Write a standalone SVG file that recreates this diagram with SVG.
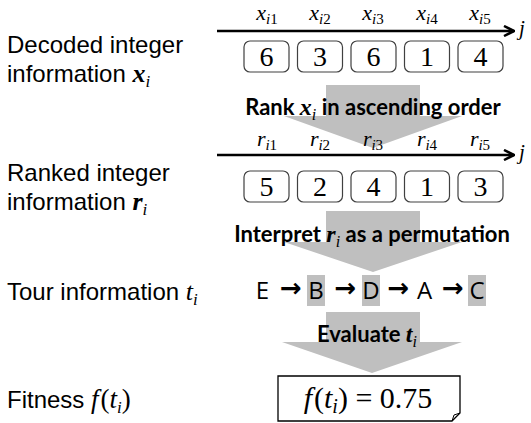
<svg xmlns="http://www.w3.org/2000/svg" width="531" height="423" viewBox="0 0 531 423">
<defs>
<style>
.lbl{font-family:"Liberation Sans",Arial,sans-serif;font-size:24px;fill:#000}
.m{font-family:"Liberation Serif","DejaVu Serif",serif;font-style:italic}
.up{font-family:"Liberation Serif","DejaVu Serif",serif;font-style:normal}
.col{font-family:"Liberation Serif","DejaVu Serif",serif;font-style:italic;font-size:22px;text-anchor:middle;fill:#000}
.box{fill:#fff;stroke:#404040;stroke-width:1.2}
.num{font-family:"Liberation Serif","DejaVu Serif",serif;font-size:28px;text-anchor:middle;fill:#000}
.big{fill:#bfbfbf}
.head{font-family:Lato,"Open Sans",sans-serif;font-weight:bold;font-size:22px;text-anchor:middle;fill:#000}
.axis{stroke:#000;stroke-width:2.5;fill:none}
.tour{font-family:"Open Sans","Liberation Sans",sans-serif;font-size:24px;text-anchor:middle;fill:#000}
.arr{font-family:"DejaVu Sans",sans-serif;font-size:26px;font-weight:bold;text-anchor:middle;fill:#000}
</style>
<marker id="head" viewBox="0 0 10 10" refX="9" refY="5" markerWidth="5" markerHeight="5" orient="auto" markerUnits="strokeWidth">
<path d="M1,1 L9,5 L1,9" fill="none" stroke="#000" stroke-width="2"/>
</marker>
</defs>
<rect width="531" height="423" fill="#fff"/>

<g id="labels">
<text class="lbl" x="7" y="53">Decoded integer</text>
<text class="lbl" x="7" y="82">information <tspan class="m" font-weight="bold" font-size="26">x</tspan><tspan class="m" font-size="17" dy="5">i</tspan></text>
<text class="lbl" x="7" y="181">Ranked integer</text>
<text class="lbl" x="7" y="210">information <tspan class="m" font-weight="bold" font-size="26">r</tspan><tspan class="m" font-size="17" dy="5">i</tspan></text>
<text class="lbl" x="7" y="300">Tour information <tspan class="m" font-size="26">t</tspan><tspan class="m" font-size="17" dy="5">i</tspan></text>
<text class="lbl" x="7" y="408">Fitness <tspan class="m" font-size="27">f</tspan><tspan class="up" font-size="27" dx="2">(</tspan><tspan class="m" font-size="27">t</tspan><tspan class="m" font-size="17" dy="5">i</tspan><tspan class="up" font-size="27" dy="-5">)</tspan></text>
</g>

<g id="connectors">
<polygon class="big" points="326,85 420,85 420,116 462,116 373,148 284,116 326,116"/>
<polygon class="big" points="326,211 420,211 420,242 462,242 373,272 284,242 326,242"/>
<polygon class="big" points="326,312 420,312 420,342 462,342 372,373 282,342 326,342"/>
<line class="axis" x1="217" y1="31" x2="514" y2="31" marker-end="url(#head)"/>
<line class="axis" x1="217" y1="155" x2="514" y2="155" marker-end="url(#head)"/>
</g>

<g id="row-x">
<text class="col" x="267" y="20">x<tspan font-size="15" dy="4">i</tspan><tspan class="up" font-size="15">1</tspan></text>
<text class="col" x="320" y="20">x<tspan font-size="15" dy="4">i</tspan><tspan class="up" font-size="15">2</tspan></text>
<text class="col" x="373" y="20">x<tspan font-size="15" dy="4">i</tspan><tspan class="up" font-size="15">3</tspan></text>
<text class="col" x="427" y="20">x<tspan font-size="15" dy="4">i</tspan><tspan class="up" font-size="15">4</tspan></text>
<text class="col" x="480" y="20">x<tspan font-size="15" dy="4">i</tspan><tspan class="up" font-size="15">5</tspan></text>
<text class="m" x="519" y="35" font-size="21">j</text>
<rect class="box" x="244" y="41" width="45" height="31" rx="6"/>
<rect class="box" x="297.5" y="41" width="45" height="31" rx="6"/>
<rect class="box" x="351" y="41" width="45" height="31" rx="6"/>
<rect class="box" x="404.5" y="41" width="45" height="31" rx="6"/>
<rect class="box" x="458" y="41" width="45" height="31" rx="6"/>
<text class="num" x="266.5" y="66">6</text>
<text class="num" x="320" y="66">3</text>
<text class="num" x="373.5" y="66">6</text>
<text class="num" x="427" y="66">1</text>
<text class="num" x="480.5" y="66">4</text>
</g>

<g id="step-rank">
<text class="head" x="373" y="115">Rank <tspan class="m" font-weight="bold" font-size="24">x</tspan><tspan class="m" font-weight="normal" font-size="16" dy="5">i</tspan><tspan dy="-5"> in ascending order</tspan></text>
</g>

<g id="row-r">
<text class="col" x="267" y="146">r<tspan font-size="15" dy="4">i</tspan><tspan class="up" font-size="15">1</tspan></text>
<text class="col" x="320" y="146">r<tspan font-size="15" dy="4">i</tspan><tspan class="up" font-size="15">2</tspan></text>
<text class="col" x="373" y="146">r<tspan font-size="15" dy="4">i</tspan><tspan class="up" font-size="15">3</tspan></text>
<text class="col" x="427" y="146">r<tspan font-size="15" dy="4">i</tspan><tspan class="up" font-size="15">4</tspan></text>
<text class="col" x="480" y="146">r<tspan font-size="15" dy="4">i</tspan><tspan class="up" font-size="15">5</tspan></text>
<text class="m" x="519" y="159" font-size="21">j</text>
<rect class="box" x="244" y="171" width="45" height="31" rx="6"/>
<rect class="box" x="297.5" y="171" width="45" height="31" rx="6"/>
<rect class="box" x="351" y="171" width="45" height="31" rx="6"/>
<rect class="box" x="404.5" y="171" width="45" height="31" rx="6"/>
<rect class="box" x="458" y="171" width="45" height="31" rx="6"/>
<text class="num" x="266.5" y="196">5</text>
<text class="num" x="320" y="196">2</text>
<text class="num" x="373.5" y="196">4</text>
<text class="num" x="427" y="196">1</text>
<text class="num" x="480.5" y="196">3</text>
</g>

<g id="step-permutation">
<text class="head" x="372" y="242">Interpret <tspan class="m" font-weight="bold" font-size="24">r</tspan><tspan class="m" font-weight="normal" font-size="16" dy="5">i</tspan><tspan dy="-5"> as a permutation</tspan></text>
</g>

<g id="tour">
<rect class="big" x="307" y="275" width="18" height="31"/>
<rect class="big" x="362" y="275" width="18" height="31"/>
<rect class="big" x="468" y="275" width="18" height="31"/>
<text class="tour" x="262.5" y="299">E</text>
<text class="arr" x="291" y="297">→</text>
<text class="tour" x="316" y="299">B</text>
<text class="arr" x="345.5" y="297">→</text>
<text class="tour" x="371" y="299">D</text>
<text class="arr" x="398.5" y="297">→</text>
<text class="tour" x="424.5" y="299">A</text>
<text class="arr" x="453" y="297">→</text>
<text class="tour" x="477" y="299">C</text>
</g>

<g id="step-evaluate">
<text class="head" x="367" y="342">Evaluate <tspan class="m" font-weight="bold" font-size="24">t</tspan><tspan class="m" font-weight="normal" font-size="16" dy="5">i</tspan></text>
</g>

<g id="fitness">
<path d="M278,376 H460 V413 L452,421 H278 Z" fill="#fff" stroke="#000" stroke-width="1.3"/>
<path d="M452,421 L454,415 L460,413" fill="none" stroke="#000" stroke-width="1"/>
<text x="368" y="408" font-size="30" text-anchor="middle" fill="#000"><tspan class="m">f</tspan><tspan class="up" dx="2">(</tspan><tspan class="m">t</tspan><tspan class="m" font-size="20" dy="5">i</tspan><tspan class="up" dy="-5">) = 0.75</tspan></text>
</g>
</svg>
